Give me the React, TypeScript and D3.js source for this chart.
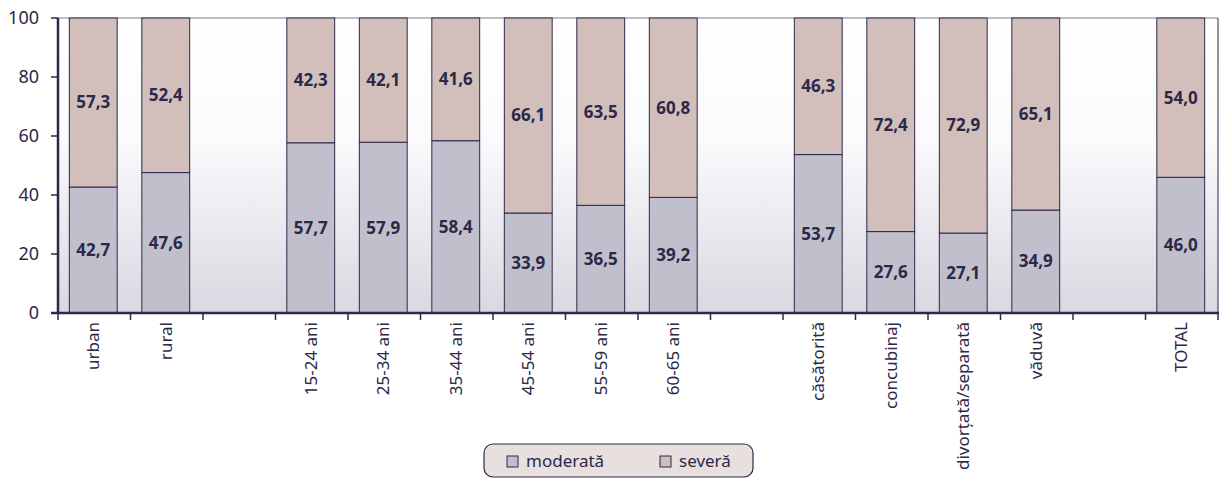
import React from "react";
import * as d3 from "d3";

const categories = ["urban", "rural", "", "15-24 ani", "25-34 ani", "35-44 ani", "45-54 ani", "55-59 ani", "60-65 ani", " ", "căsătorită", "concubinaj", "divorțată/separată", "văduvă", "  ", "TOTAL"];
const moderata: (number | null)[] = [42.7, 47.6, null, 57.7, 57.9, 58.4, 33.9, 36.5, 39.2, null, 53.7, 27.6, 27.1, 34.9, null, 46.0];
const severa: (number | null)[] = [57.3, 52.4, null, 42.3, 42.1, 41.6, 66.1, 63.5, 60.8, null, 46.3, 72.4, 72.9, 65.1, null, 54.0];
const yTicks = [0, 20, 40, 60, 80, 100];
const seriesNames = ["moderată", "severă"];

const W = 1219, H = 478;
const left = 58, right = 1218, top = 18, bottom = 313;
const ink = "#2b2848";
const colors = ["#c1bfcc", "#d2bfbc"];
const font = "'Noto Sans', 'Open Sans', sans-serif";
const fmt = (v: number) => v.toFixed(1).replace(".", ",");

export default function App() {
  const x = d3.scaleBand<string>().domain(categories).range([left, right]).paddingInner(0).paddingOuter(0);
  const y = d3.scaleLinear().domain([0, 100]).range([bottom, top]);
  const bw = x.bandwidth() * 0.66;
  const bounds = categories.map((c) => x(c)!).concat([right]);

  return (
    <svg width={W} height={H} style={{ position: "absolute", left: 0, top: 0 }}>
      <defs>
        <linearGradient id="bg" x1="0" y1="0" x2="0" y2="1">
          <stop offset="0" stopColor="#ffffff" />
          <stop offset="0.4" stopColor="#fbfbfd" />
          <stop offset="1" stopColor="#d9d8e1" />
        </linearGradient>
      </defs>
      <rect x={left} y={top} width={right - left} height={bottom - top} fill="url(#bg)" />
      <line x1={left} x2={right} y1={top} y2={top} stroke={ink} strokeWidth={1} opacity={0.6} />
      <line x1={right} x2={right} y1={top} y2={bottom} stroke={ink} strokeWidth={1} />
      {categories.map((c, i) => {
        const m = moderata[i], s = severa[i];
        if (m == null || s == null) return null;
        const bx = x(c)! + (x.bandwidth() - bw) / 2 - 1;
        return (
          <g key={i}>
            <rect x={bx} y={y(m)} width={bw} height={y(0) - y(m)} fill={colors[0]} stroke={ink} strokeWidth={1} />
            <rect x={bx} y={y(m + s)} width={bw} height={y(m) - y(m + s)} fill={colors[1]} stroke={ink} strokeWidth={1} />
            <text x={bx + bw / 2} y={y(m / 2)} dy="0.35em" textAnchor="middle" fontFamily={font} fontWeight="bold" fontSize={17} fill={ink}>{fmt(m)}</text>
            <text x={bx + bw / 2} y={y(m + s / 2)} dy="0.35em" textAnchor="middle" fontFamily={font} fontWeight="bold" fontSize={17} fill={ink}>{fmt(s)}</text>
          </g>
        );
      })}
      <line x1={left} x2={left} y1={top} y2={bottom + 1} stroke={ink} strokeWidth={2.5} />
      <line x1={left - 7} x2={right + 1} y1={bottom} y2={bottom} stroke={ink} strokeWidth={2.5} />
      {yTicks.map((t) => (
        <g key={t}>
          <line x1={left - 7} x2={left} y1={y(t)} y2={y(t)} stroke={ink} strokeWidth={1.5} />
          <text x={left - 19} y={y(t)} dy="0.35em" textAnchor="end" fontFamily={font} fontSize={18} fill={ink}>{t}</text>
        </g>
      ))}
      {bounds.map((b, i) => (
        <line key={i} x1={b} x2={b} y1={bottom} y2={bottom + 7} stroke={ink} strokeWidth={1.5} />
      ))}
      {categories.map((c, i) => (
        c.trim() ? (
          <text key={i} transform={`translate(${x(c)! + x.bandwidth() / 2 + 5},${bottom + 9}) rotate(-90)`} textAnchor="end" fontFamily={font} fontSize={17} fill={ink}>{c}</text>
        ) : null
      ))}
      <g>
        <rect x={484} y={444} width={269} height={33} rx={9} fill="#e8dfdf" stroke={ink} strokeWidth={1.2} />
        {seriesNames.map((n, i) => {
          const lx = 507 + i * 153;
          return (
            <g key={n}>
              <rect x={lx} y={456} width={11} height={11} fill={colors[i]} stroke={ink} strokeWidth={1} />
              <text x={lx + 19} y={461} dy="0.35em" fontFamily={font} fontSize={17} fill={ink}>{n}</text>
            </g>
          );
        })}
      </g>
    </svg>
  );
}
